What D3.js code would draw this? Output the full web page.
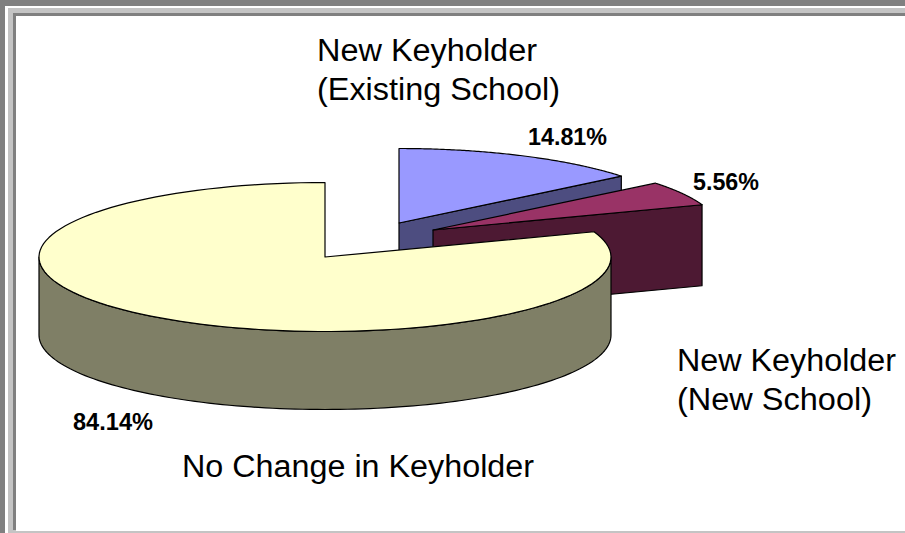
<!DOCTYPE html>
<html><head><meta charset="utf-8">
<script src="https://cdn.jsdelivr.net/npm/d3@7/dist/d3.min.js"></script>
<style>html,body{margin:0;padding:0;background:#fff}svg{display:block}text{font-family:"Liberation Sans",Arial,sans-serif;fill:#000}</style>
</head><body><div id="c"></div>
<script>
const categories = ["New Keyholder (Existing School)", "New Keyholder (New School)", "No Change in Keyholder"];
const values = [14.81, 5.56, 84.14];
const valueLabels = ["14.81%", "5.56%", "84.14%"];
const topColors = ["#9999ff", "#993366", "#ffffcc"];
const sideColors = ["#4d4d80", "#4d1933", "#7f7f66"];

const W = 905, H = 533;
const svg = d3.select("#c").append("svg").attr("width", W).attr("height", H);

// window frame
const frame = [[0,0,W,H,"#808080"],[5,6,W-5,H-6,"#ffffff"],[8,8,W-8,H-8,"#c4c4c4"],[13,13,W-13,517,"#808080"],[16,16,W-16,515,"#ffffff"]];
svg.selectAll("rect.f").data(frame).join("rect").attr("class","f")
  .attr("x",d=>d[0]).attr("y",d=>d[1]).attr("width",d=>d[2]).attr("height",d=>d[3]).attr("fill",d=>d[4]);

const RX = 286, RY = 74.5;
const depths = [78, 81, 78];
const centers = [[399,223],[433,230],[325,257]];
const pie = d3.pie().sort(null);
const arcs = pie(values);
const line = d3.line();
const pt = (c,a,dz=0)=>[c[0]+RX*Math.sin(a), c[1]-RY*Math.cos(a)+dz];
const arcPts = (c,a0,a1,dz=0)=>d3.range(0,1.0001,1/120).map(t=>pt(c,a0+(a1-a0)*t,dz));

arcs.forEach((d,i)=>{
  const c = centers[i], DEPTH = depths[i];
  const a0=d.startAngle,a1=d.endAngle;
  const g = svg.append("g").attr("stroke","#000").attr("stroke-width",1.2).attr("stroke-linejoin","round");
  if(i<2){
    const e=pt(c,a1);
    const wall=[c,e,[e[0],e[1]+DEPTH],[c[0],c[1]+DEPTH]];
    g.append("path").attr("d",line(wall)+"Z").attr("fill",sideColors[i]);
  } else {
    const s=Math.PI/2,t=Math.PI*1.5;
    const rim=arcPts(c,s,t).concat(arcPts(c,t,s,DEPTH));
    g.append("path").attr("d",line(rim)+"Z").attr("fill",sideColors[i]);
  }
  const top=[c].concat(arcPts(c,a0,a1));
  g.append("path").attr("d",line(top)+"Z").attr("fill",topColors[i]);
});

function label(s,x,y,size,w,bold){
  svg.append("text").attr("x",x).attr("y",y).attr("font-size",size)
    .attr("font-weight",bold?"bold":null).attr("textLength",w).attr("lengthAdjust","spacingAndGlyphs").text(s);
}
label("New Keyholder",317,61,31,220);
label("(Existing School)",317,100,31,243);
label("New Keyholder",677,371,31,219);
label("(New School)",677,410,31,195);
label("No Change in Keyholder",182,477,31,352);
label(valueLabels[0],528,145,23,79,true);
label(valueLabels[1],693,190,23,66,true);
label(valueLabels[2],73,430,23,80,true);
</script></body></html>
